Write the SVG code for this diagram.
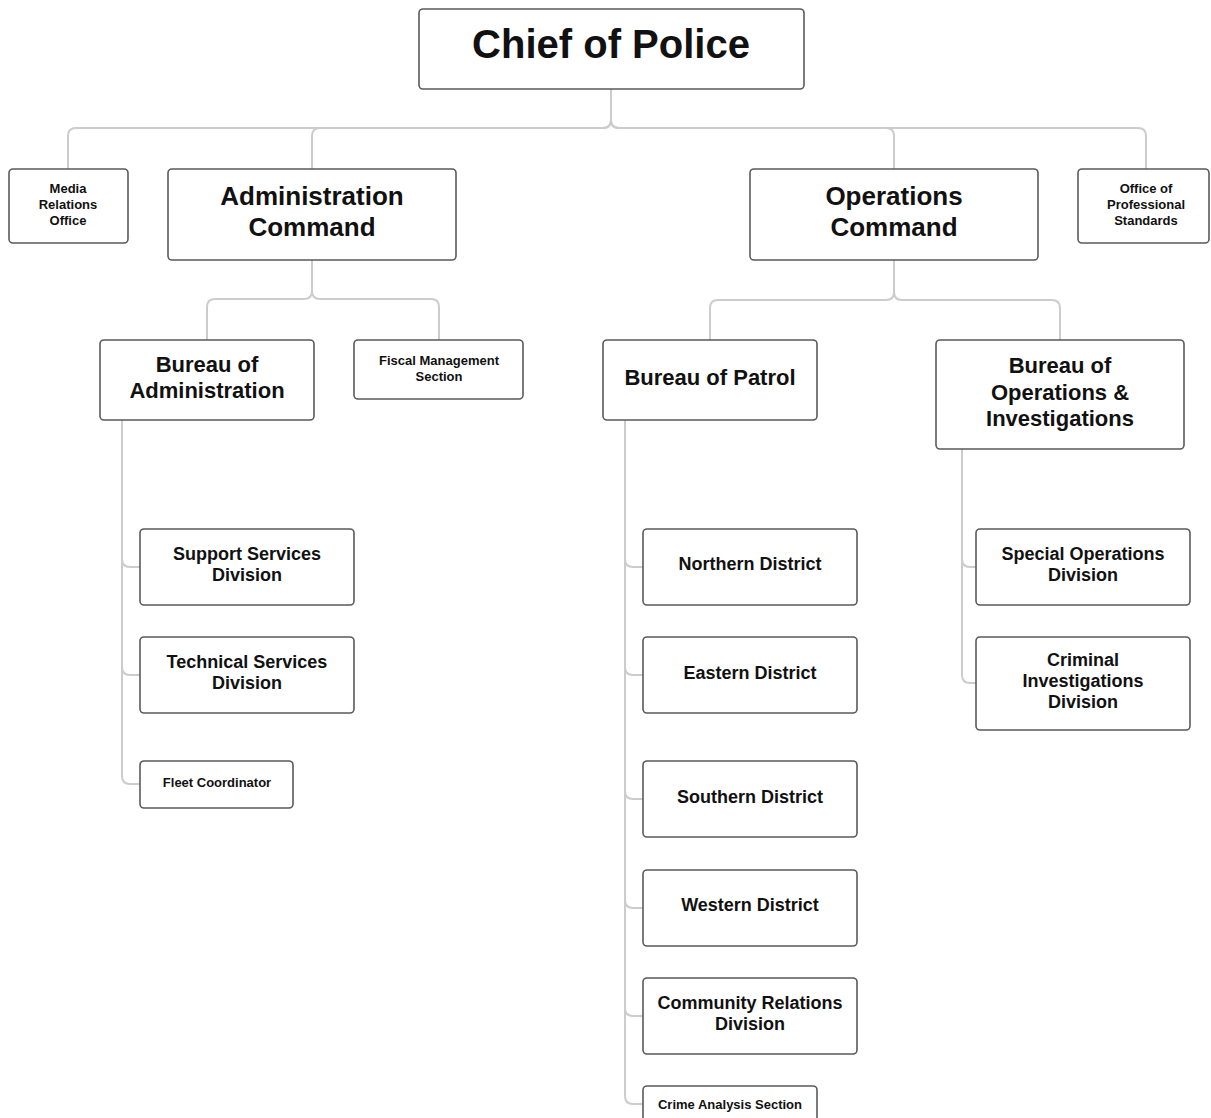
<svg xmlns="http://www.w3.org/2000/svg" width="1211" height="1118" viewBox="0 0 1211 1118">
<style>
.box{fill:#fff;stroke:#5a5a5a;stroke-width:1.6}
.c{fill:none;stroke:#cccccc;stroke-width:2}
text{font-family:"Liberation Sans",Arial,sans-serif;font-weight:bold;fill:#111;text-anchor:middle}
.t40{font-size:40px}.t26{font-size:26px}.t22{font-size:22px}.t18{font-size:18px}.t13{font-size:13px}
</style>
<rect width="1211" height="1118" fill="#fff"/>
<g id="connectors">
<path class="c" d="M611,89 V120 Q611,128 603,128 H76 Q68,128 68,136 V169"/>
<path class="c" d="M611,89 V120 Q611,128 603,128 H320 Q312,128 312,136 V169"/>
<path class="c" d="M611,89 V120 Q611,128 619,128 H886 Q894,128 894,136 V169"/>
<path class="c" d="M611,89 V120 Q611,128 619,128 H1138 Q1146,128 1146,136 V169"/>
<path class="c" d="M312,260 V291 Q312,299 304,299 H215 Q207,299 207,307 V340"/>
<path class="c" d="M312,260 V291 Q312,299 320,299 H431 Q439,299 439,307 V340"/>
<path class="c" d="M894,260 V292 Q894,300 886,300 H718 Q710,300 710,308 V340"/>
<path class="c" d="M894,260 V292 Q894,300 902,300 H1052 Q1060,300 1060,308 V340"/>
<path class="c" d="M122,420 V559 Q122,567 130,567 H140"/>
<path class="c" d="M122,420 V667 Q122,675 130,675 H140"/>
<path class="c" d="M122,420 V776 Q122,784 130,784 H140"/>
<path class="c" d="M625,420 V559 Q625,567 633,567 H643"/>
<path class="c" d="M625,420 V667 Q625,675 633,675 H643"/>
<path class="c" d="M625,420 V791 Q625,799 633,799 H643"/>
<path class="c" d="M625,420 V900 Q625,908 633,908 H643"/>
<path class="c" d="M625,420 V1008 Q625,1016 633,1016 H643"/>
<path class="c" d="M625,420 V1096 Q625,1104 633,1104 H643"/>
<path class="c" d="M962,449 V559 Q962,567 970,567 H976"/>
<path class="c" d="M962,449 V675 Q962,683 970,683 H976"/>
</g>
<g id="chief"><rect class="box" x="419" y="9" width="385" height="80" rx="4"/><text class="t40" x="611" y="58">Chief of Police</text></g>
<g id="media"><rect class="box" x="9" y="169" width="119" height="74" rx="4"/><text class="t13" x="68" y="192.5">Media</text><text class="t13" x="68" y="208.5">Relations</text><text class="t13" x="68" y="224.5">Office</text></g>
<g id="admin-command"><rect class="box" x="168" y="169" width="288" height="91" rx="4"/><text class="t26" x="312" y="205">Administration</text><text class="t26" x="312" y="236">Command</text></g>
<g id="ops-command"><rect class="box" x="750" y="169" width="288" height="91" rx="4"/><text class="t26" x="894" y="205">Operations</text><text class="t26" x="894" y="236">Command</text></g>
<g id="ops-standards"><rect class="box" x="1078" y="169" width="131" height="74" rx="4"/><text class="t13" x="1146" y="192.5">Office of</text><text class="t13" x="1146" y="208.5">Professional</text><text class="t13" x="1146" y="224.5">Standards</text></g>
<g id="bureau-admin"><rect class="box" x="100" y="340" width="214" height="80" rx="4"/><text class="t22" x="207" y="372">Bureau of</text><text class="t22" x="207" y="398">Administration</text></g>
<g id="fiscal"><rect class="box" x="354" y="340" width="169" height="59" rx="4"/><text class="t13" x="439" y="364.5">Fiscal Management</text><text class="t13" x="439" y="380.5">Section</text></g>
<g id="bureau-patrol"><rect class="box" x="603" y="340" width="214" height="80" rx="4"/><text class="t22" x="710" y="385">Bureau of Patrol</text></g>
<g id="bureau-oi"><rect class="box" x="936" y="340" width="248" height="109" rx="4"/><text class="t22" x="1060" y="373">Bureau of</text><text class="t22" x="1060" y="400">Operations &amp;</text><text class="t22" x="1060" y="426">Investigations</text></g>
<g id="support"><rect class="box" x="140" y="529" width="214" height="76" rx="4"/><text class="t18" x="247" y="560">Support Services</text><text class="t18" x="247" y="581">Division</text></g>
<g id="technical"><rect class="box" x="140" y="637" width="214" height="76" rx="4"/><text class="t18" x="247" y="668">Technical Services</text><text class="t18" x="247" y="689">Division</text></g>
<g id="fleet"><rect class="box" x="140" y="761" width="153" height="47" rx="4"/><text class="t13" x="217" y="786.5">Fleet Coordinator</text></g>
<g id="northern"><rect class="box" x="643" y="529" width="214" height="76" rx="4"/><text class="t18" x="750" y="570">Northern District</text></g>
<g id="eastern"><rect class="box" x="643" y="637" width="214" height="76" rx="4"/><text class="t18" x="750" y="679">Eastern District</text></g>
<g id="southern"><rect class="box" x="643" y="761" width="214" height="76" rx="4"/><text class="t18" x="750" y="803">Southern District</text></g>
<g id="western"><rect class="box" x="643" y="870" width="214" height="76" rx="4"/><text class="t18" x="750" y="911">Western District</text></g>
<g id="community"><rect class="box" x="643" y="978" width="214" height="76" rx="4"/><text class="t18" x="750" y="1009">Community Relations</text><text class="t18" x="750" y="1030">Division</text></g>
<g id="crime-analysis"><rect class="box" x="643" y="1086" width="174" height="47" rx="4"/><text class="t13" x="730" y="1108.5">Crime Analysis Section</text></g>
<g id="special-ops"><rect class="box" x="976" y="529" width="214" height="76" rx="4"/><text class="t18" x="1083" y="560">Special Operations</text><text class="t18" x="1083" y="581">Division</text></g>
<g id="criminal"><rect class="box" x="976" y="637" width="214" height="93" rx="4"/><text class="t18" x="1083" y="666">Criminal</text><text class="t18" x="1083" y="687">Investigations</text><text class="t18" x="1083" y="708">Division</text></g>
</svg>
